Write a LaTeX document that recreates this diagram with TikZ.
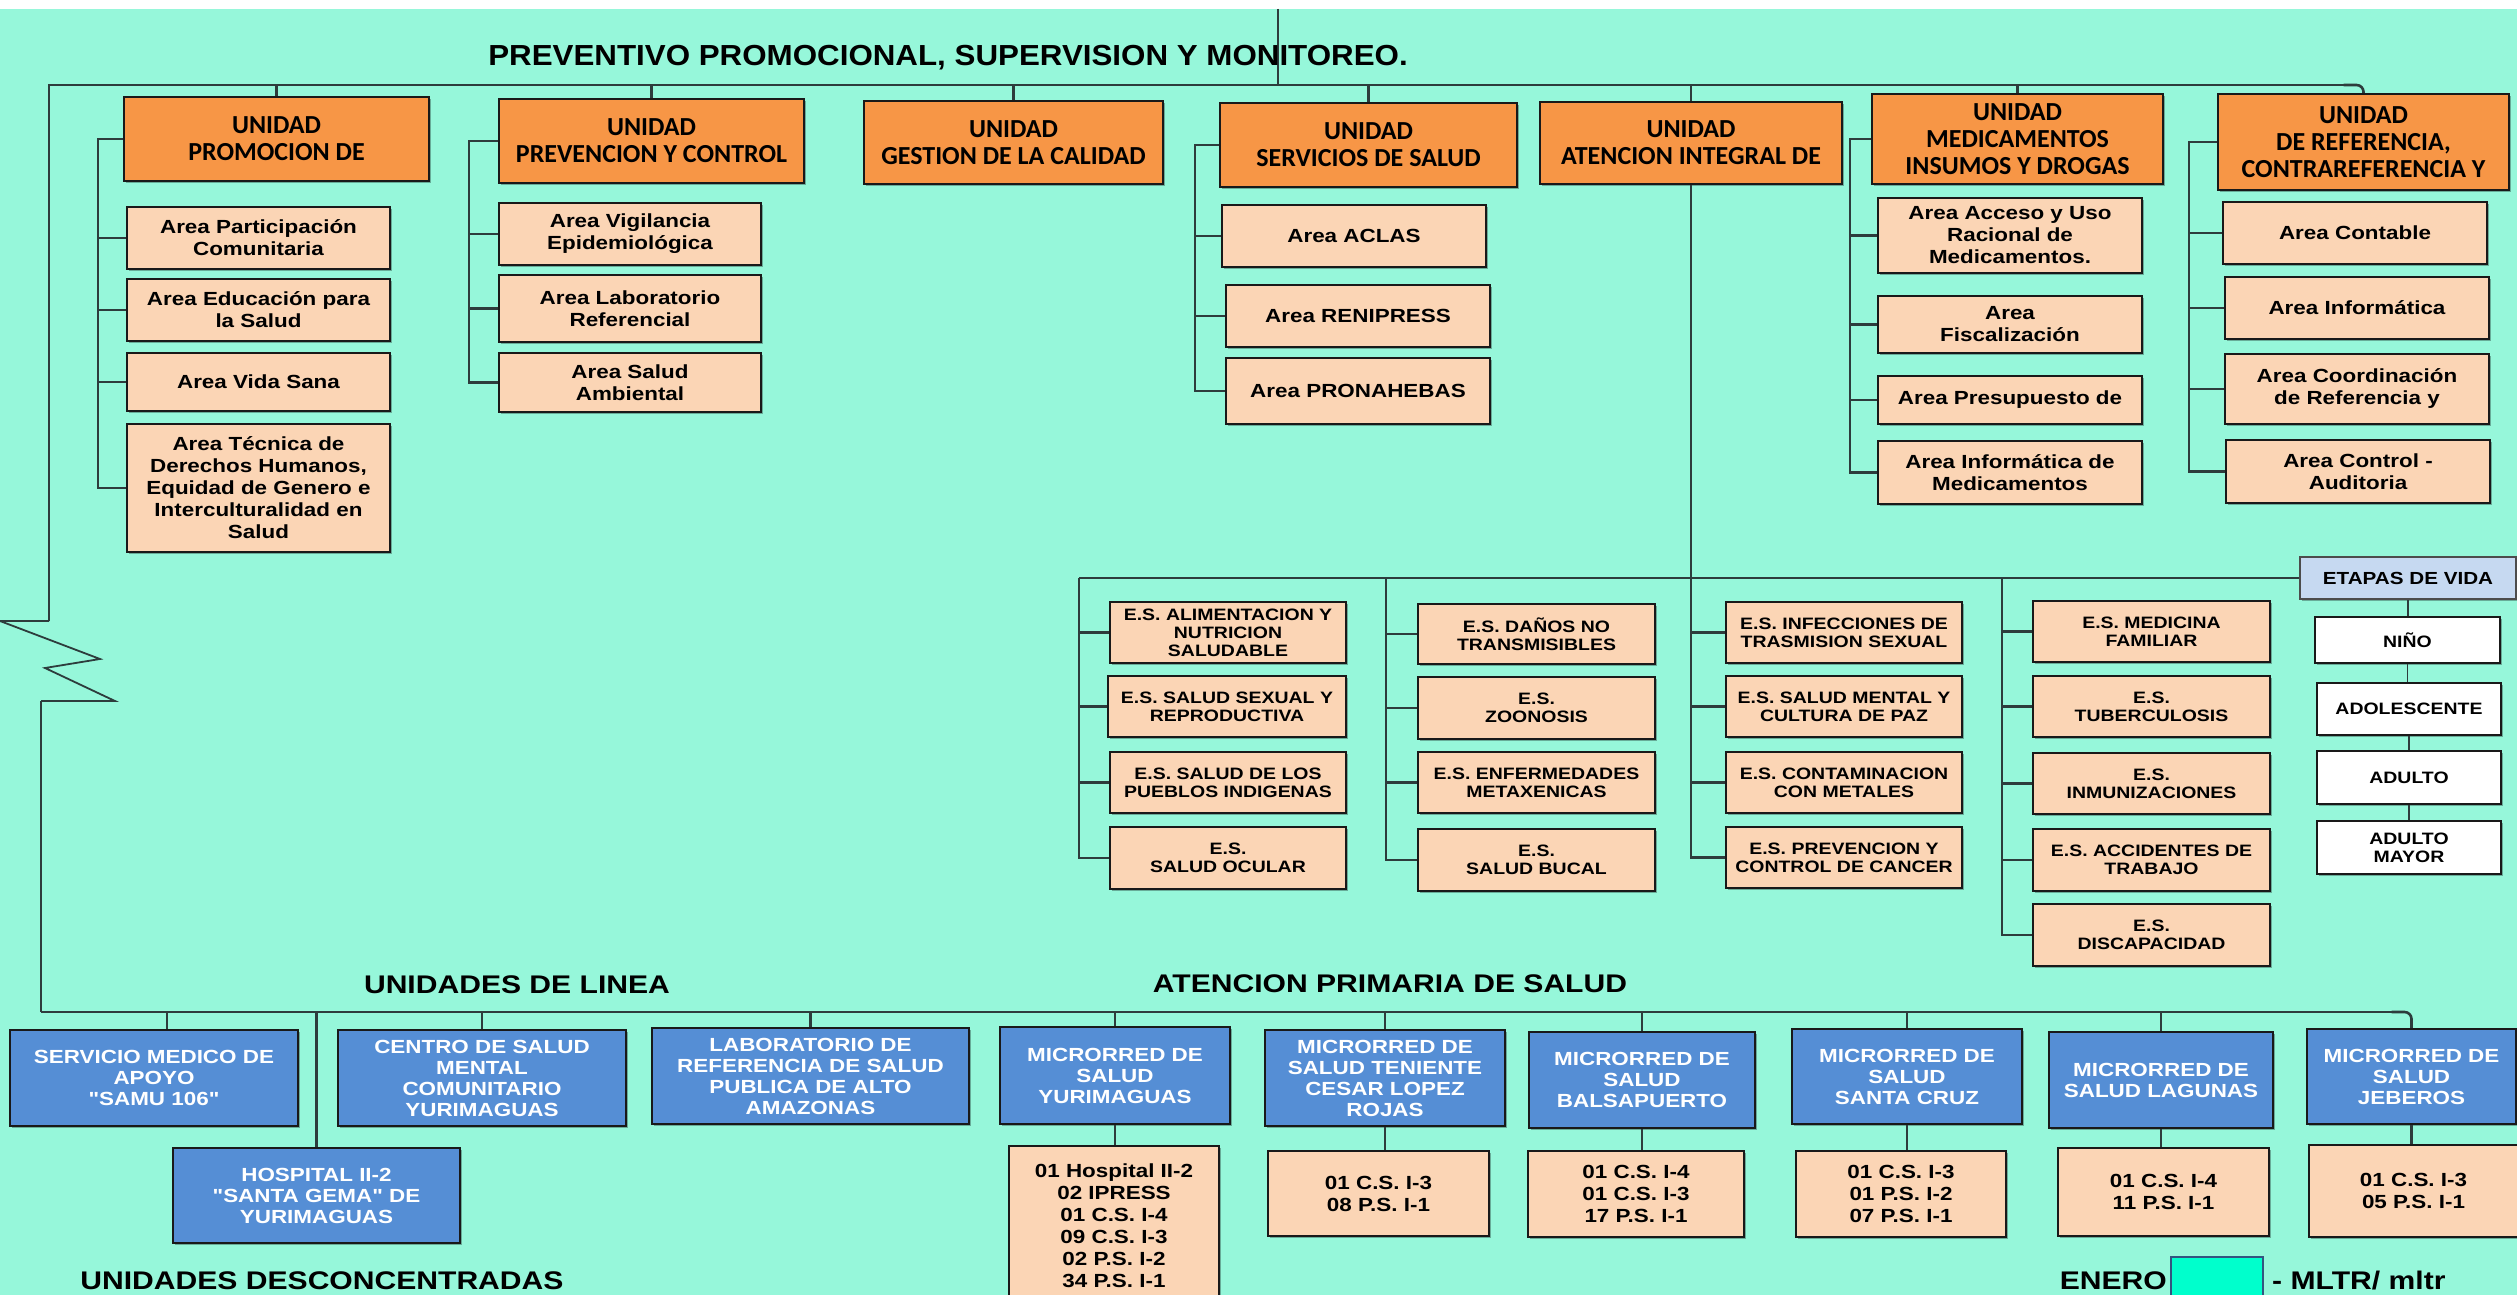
\documentclass[tikz,border=0pt]{standalone}
\usepackage{fontspec}
\usetikzlibrary{shadows,calc}
\newfontfamily\arialw[FakeStretch=1.18]{Liberation Sans}
\newfontfamily\arialt[FakeStretch=1.08]{Liberation Sans}
\newfontfamily\calib{Carlito}
\definecolor{bgc}{RGB}{150,247,218}
\definecolor{orng}{RGB}{247,150,70}
\definecolor{pch}{RGB}{251,213,181}
\definecolor{blu}{RGB}{85,142,213}
\definecolor{etp}{RGB}{198,217,241}
\definecolor{lnc}{RGB}{45,60,60}
\definecolor{swt}{RGB}{0,255,204}
\newcommand\bx[7]{\node[#6, minimum width={#4pt-#2pt}, minimum height={#5pt-#3pt}] (#1) at ({(#2+#4)/2},{(#3+#5)/2}) {#7};}
\begin{document}
\begin{tikzpicture}[x=1pt,y=-1pt,
  basebox/.style={draw=black!90, line width=2.2pt, align=center, inner sep=1pt,
    drop shadow={shadow xshift=2pt,shadow yshift=-2pt,opacity=.3,fill=black}},
  unitbox/.style={basebox, fill=orng, font=\calib\bfseries\fontsize{26}{27}\selectfont},
  areabox/.style={basebox, fill=pch, font=\arialw\bfseries\fontsize{19}{22}\selectfont},
  esbox/.style={basebox, fill=pch, font=\arialw\bfseries\fontsize{16.5}{18}\selectfont},
  whbox/.style={basebox, fill=white, font=\arialw\bfseries\fontsize{16.5}{18}\selectfont},
  etbox/.style={basebox, fill=etp, draw=black!70, font=\arialw\bfseries\fontsize{17.5}{19}\selectfont},
  bluebox/.style={basebox, fill=blu, text=white, font=\arialw\bfseries\fontsize{19}{21}\selectfont},
  subbox/.style={basebox, fill=pch, font=\arialw\bfseries\fontsize{19}{22}\selectfont},
  conn/.style={draw=lnc, line width=2.6pt},
  thinconn/.style={draw=lnc, line width=1.8pt},
  lbl/.style={font=\arialw\bfseries\fontsize{25.5}{27}\selectfont, inner sep=0},
  ttl/.style={font=\arialt\bfseries\fontsize{29}{31}\selectfont, inner sep=0}]
\useasboundingbox (0,0) rectangle (2517,1295);
\fill[white] (0,0) rectangle (2517,1295);
\fill[bgc] (0,9) rectangle (2517,1295);

% ---------- top ----------
\coordinate (top) at (1278,9);
\coordinate (tl) at (49,85);
\coordinate (zt) at (49,621);
\draw[conn] (top) -- (top |- tl);
\node[ttl] (title) at (948,58) {PREVENTIVO PROMOCIONAL, SUPERVISION Y MONITOREO.};

\bx{O1}{124}{97}{429}{181}{unitbox}{UNIDAD\\PROMOCION DE}
\bx{O2}{499}{99}{804}{183}{unitbox}{UNIDAD\\PREVENCION Y CONTROL}
\bx{O3}{864}{101}{1163}{184}{unitbox}{UNIDAD\\GESTION DE LA CALIDAD}
\bx{O4}{1220}{103}{1517}{187}{unitbox}{UNIDAD\\SERVICIOS DE SALUD}
\bx{O5}{1540}{102}{1842}{184}{unitbox}{UNIDAD\\ATENCION INTEGRAL DE}
\bx{O6}{1872}{94}{2163}{184}{unitbox}{UNIDAD\\MEDICAMENTOS\\INSUMOS Y DROGAS}
\bx{O7}{2218}{94}{2509}{190}{unitbox}{UNIDAD\\DE REFERENCIA,\\CONTRAREFERENCIA Y}

\draw[conn] (zt) -- (tl) -- ($(tl -| O7.north)+(-10,0)$);
\draw[conn, rounded corners=7pt] ($(tl -| O7.north)+(-20,0)$) -- (tl -| O7.north) -- (O7.north);
\foreach \u in {O1,O2,O3,O4,O6} \draw[conn] (tl -| \u.north) -- (\u.north);
\draw[conn] (tl -| O5.north) -- (O5.north);

% children of O1
\coordinate (s1) at (98,0);
\bx{C11}{127}{207}{390}{269}{areabox}{Area Participación\\Comunitaria}
\bx{C12}{127}{279}{390}{341}{areabox}{Area Educación para\\la Salud}
\bx{C13}{127}{353}{390}{411}{areabox}{Area Vida Sana}
\bx{C14}{127}{424}{390}{552}{areabox}{Area Técnica de\\Derechos Humanos,\\Equidad de Genero e\\Interculturalidad en\\Salud}
\draw[conn] (O1.west) -- (O1.west -| s1) -- (C14.west -| s1) -- (C14.west);
\foreach \c in {C11,C12,C13} \draw[conn] (\c.west -| s1) -- (\c.west);

% children of O2
\coordinate (s2) at (469,0);
\bx{C21}{499}{203}{761}{265}{areabox}{Area Vigilancia\\Epidemiológica}
\bx{C22}{499}{275}{761}{342}{areabox}{Area Laboratorio\\Referencial}
\bx{C23}{499}{353}{761}{412}{areabox}{Area Salud\\Ambiental}
\draw[conn] (O2.west) -- (O2.west -| s2) -- (C23.west -| s2) -- (C23.west);
\foreach \c in {C21,C22} \draw[conn] (\c.west -| s2) -- (\c.west);

% children of O4
\coordinate (s4) at (1195,0);
\bx{C41}{1222}{205}{1486}{267}{areabox}{Area ACLAS}
\bx{C42}{1226}{285}{1490}{347}{areabox}{Area RENIPRESS}
\bx{C43}{1226}{358}{1490}{424}{areabox}{Area PRONAHEBAS}
\draw[conn] (O4.west) -- (O4.west -| s4) -- (C43.west -| s4) -- (C43.west);
\foreach \c in {C41,C42} \draw[conn] (\c.west -| s4) -- (\c.west);

% children of O6
\coordinate (s6) at (1850,0);
\bx{C61}{1878}{198}{2142}{273}{areabox}{Area Acceso y Uso\\Racional de\\Medicamentos.}
\bx{C62}{1878}{296}{2142}{353}{areabox}{Area\\Fiscalización}
\bx{C63}{1878}{376}{2142}{424}{areabox}{Area Presupuesto de}
\bx{C64}{1878}{441}{2142}{504}{areabox}{Area Informática de\\Medicamentos}
\draw[conn] (O6.west) -- (O6.west -| s6) -- (C64.west -| s6) -- (C64.west);
\foreach \c in {C61,C62,C63} \draw[conn] (\c.west -| s6) -- (\c.west);

% children of O7
\coordinate (s7) at (2189,0);
\bx{C71}{2223}{202}{2487}{264}{areabox}{Area Contable}
\bx{C72}{2225}{277}{2489}{339}{areabox}{Area Informática}
\bx{C73}{2225}{354}{2489}{424}{areabox}{Area Coordinación\\de Referencia y}
\bx{C74}{2226}{440}{2490}{503}{areabox}{Area Control -\\Auditoria}
\draw[conn] (O7.west) -- (O7.west -| s7) -- (C74.west -| s7) -- (C74.west);
\foreach \c in {C71,C72,C73} \draw[conn] (\c.west -| s7) -- (\c.west);

% ---------- E.S. block ----------
\bx{ET}{2300}{557}{2516}{599}{etbox}{ETAPAS DE VIDA}
\coordinate (eb) at (1079,578);
\coordinate (c2) at (1386,578);
\coordinate (c4) at (2002,578);

\bx{E11}{1110}{602}{1346}{663}{esbox}{E.S. ALIMENTACION Y\\NUTRICION\\SALUDABLE}
\bx{E12}{1108}{676}{1346}{737}{esbox}{E.S. SALUD SEXUAL Y\\REPRODUCTIVA}
\bx{E13}{1110}{752}{1346}{813}{esbox}{E.S. SALUD DE LOS\\PUEBLOS INDIGENAS}
\bx{E14}{1110}{827}{1346}{889}{esbox}{E.S.\\SALUD OCULAR}

\bx{E21}{1418}{604}{1655}{664}{esbox}{E.S. DAÑOS NO\\TRANSMISIBLES}
\bx{E22}{1418}{677}{1655}{739}{esbox}{E.S.\\ZOONOSIS}
\bx{E23}{1418}{752}{1655}{813}{esbox}{E.S. ENFERMEDADES\\METAXENICAS}
\bx{E24}{1418}{829}{1655}{891}{esbox}{E.S.\\SALUD BUCAL}

\bx{E31}{1726}{602}{1962}{663}{esbox}{E.S. INFECCIONES DE\\TRASMISION SEXUAL}
\bx{E32}{1726}{676}{1962}{737}{esbox}{E.S. SALUD MENTAL Y\\CULTURA DE PAZ}
\bx{E33}{1726}{752}{1962}{813}{esbox}{E.S. CONTAMINACION\\CON METALES}
\bx{E34}{1726}{827}{1962}{888}{esbox}{E.S. PREVENCION Y\\CONTROL DE CANCER}

\bx{E41}{2033}{601}{2270}{662}{esbox}{E.S. MEDICINA\\FAMILIAR}
\bx{E42}{2033}{676}{2270}{737}{esbox}{E.S.\\TUBERCULOSIS}
\bx{E43}{2033}{753}{2270}{814}{esbox}{E.S.\\INMUNIZACIONES}
\bx{E44}{2033}{829}{2270}{891}{esbox}{E.S. ACCIDENTES DE\\TRABAJO}
\bx{E45}{2033}{904}{2270}{966}{esbox}{E.S.\\DISCAPACIDAD}

\draw[conn] (eb) -- (ET.west |- eb);
\draw[conn] (O5.south) -- (O5.south |- E34.west) -- (E34.west);
\foreach \c in {E31,E32,E33} \draw[conn] (\c.west -| O5.south) -- (\c.west);
\draw[conn] (eb) -- (eb |- E14.west) -- (E14.west);
\foreach \c in {E11,E12,E13} \draw[conn] (\c.west -| eb) -- (\c.west);
\draw[conn] (c2) -- (c2 |- E24.west) -- (E24.west);
\foreach \c in {E21,E22,E23} \draw[conn] (\c.west -| c2) -- (\c.west);
\draw[conn] (c4) -- (c4 |- E45.west) -- (E45.west);
\foreach \c in {E41,E42,E43,E44} \draw[conn] (\c.west -| c4) -- (\c.west);

\bx{W1}{2315}{617}{2500}{663}{whbox}{NIÑO}
\bx{W2}{2317}{683}{2501}{735}{whbox}{ADOLESCENTE}
\bx{W3}{2317}{751}{2501}{804}{whbox}{ADULTO}
\bx{W4}{2317}{821}{2501}{874}{whbox}{ADULTO\\MAYOR}
\draw[thinconn] (ET.south) -- (ET.south |- W1.north);
\draw[thinconn] (W1.south) -- (W1.south |- W2.north);
\draw[thinconn] (W2.south) -- (W2.south |- W3.north);
\draw[thinconn] (W3.south) -- (W3.south |- W4.north);

% ---------- left break line ----------
\coordinate (zb) at (41,701);
\coordinate (bl) at (41,1012);
\draw[thinconn, line join=miter] (zt) -- (0,621) -- (100,659) -- (45,668) -- (115,701) -- (zb);
\draw[thinconn] (zb) -- (bl);

% ---------- bottom ----------
\node[lbl] (lin) at (517,985) {UNIDADES DE LINEA};
\node[lbl] (aps) at (1390,984) {ATENCION PRIMARIA DE SALUD};
\node[lbl] (dcon) at (322,1281) {UNIDADES DESCONCENTRADAS};

\bx{B1}{10}{1030}{298}{1126}{bluebox}{SERVICIO MEDICO DE\\APOYO\\"SAMU 106"}
\bx{B2}{173}{1148}{460}{1243}{bluebox}{HOSPITAL II-2\\"SANTA GEMA" DE\\YURIMAGUAS}
\bx{B3}{338}{1030}{626}{1126}{bluebox}{CENTRO DE SALUD\\MENTAL\\COMUNITARIO\\YURIMAGUAS}
\bx{B4}{652}{1028}{969}{1124}{bluebox}{LABORATORIO DE\\REFERENCIA DE SALUD\\PUBLICA DE ALTO\\AMAZONAS}
\bx{B5}{1000}{1027}{1230}{1124}{bluebox}{MICRORRED DE\\SALUD\\YURIMAGUAS}
\bx{B6}{1265}{1030}{1505}{1126}{bluebox}{MICRORRED DE\\SALUD TENIENTE\\CESAR LOPEZ\\ROJAS}
\bx{B7}{1529}{1032}{1755}{1128}{bluebox}{MICRORRED DE\\SALUD\\BALSAPUERTO}
\bx{B8}{1792}{1029}{2022}{1124}{bluebox}{MICRORRED DE\\SALUD\\SANTA CRUZ}
\bx{B9}{2049}{1032}{2273}{1128}{bluebox}{MICRORRED DE\\SALUD LAGUNAS}
\bx{B10}{2307}{1029}{2516}{1124}{bluebox}{MICRORRED DE\\SALUD\\JEBEROS}

\bx{S5}{1009}{1146}{1219}{1306}{subbox}{01 Hospital II-2\\02 IPRESS\\01 C.S. I-4\\09 C.S. I-3\\02 P.S. I-2\\34 P.S. I-1}
\bx{S6}{1268}{1151}{1489}{1236}{subbox}{01 C.S. I-3\\08 P.S. I-1}
\bx{S7}{1528}{1151}{1744}{1237}{subbox}{01 C.S. I-4\\01 C.S. I-3\\17 P.S. I-1}
\bx{S8}{1796}{1151}{2006}{1237}{subbox}{01 C.S. I-3\\01 P.S. I-2\\07 P.S. I-1}
\bx{S9}{2058}{1148}{2269}{1236}{subbox}{01 C.S. I-4\\11 P.S. I-1}
\bx{S10}{2309}{1145}{2518}{1237}{subbox}{01 C.S. I-3\\05 P.S. I-1}

\draw[conn] (bl) -- ($(bl -| B10.north)+(-10,0)$);
\draw[conn, rounded corners=7pt] ($(bl -| B10.north)+(-20,0)$) -- (bl -| B10.north) -- (B10.north);
\coordinate (dS) at (167,1012);
\draw[conn] (dS) -- (dS |- B1.north);
\draw[conn] (bl -| B2.north) -- (B2.north);
\foreach \b in {B3,B4,B5,B6,B7,B8,B9} \draw[conn] (bl -| \b.north) -- (\b.north);
\foreach \b/\s in {B5/S5,B6/S6,B7/S7,B8/S8,B9/S9,B10/S10} \draw[conn] (\b.south) -- (\b.south |- \s.north);

% legend
\node[lbl, anchor=east] (ene) at (2167,1281) {ENERO};
\bx{SW}{2171}{1257}{2263}{1312}{draw=blu!60!black, line width=2pt, fill=swt, inner sep=0pt}{}
\node[lbl, anchor=west] (mltr) at (2272,1281) {- MLTR/ mltr};
\end{tikzpicture}
\end{document}
